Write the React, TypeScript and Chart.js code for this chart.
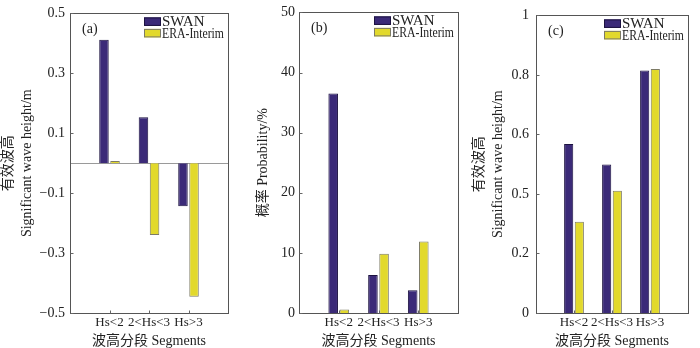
import React, { useEffect, useRef } from 'react';
import { Chart, registerables } from 'chart.js';

Chart.register(...registerables);

const categories = ['Hs<2', '2<Hs<3', 'Hs>3'];
const seriesNames = ['SWAN', 'ERA-Interim'];

const swanBias = [0.412, 0.153, -0.144];
const eraBias = [0.007, -0.24, -0.446];
const swanProb = [36.5, 6.3, 3.8];
const eraProb = [0.6, 9.85, 11.9];
const swanRmse = [0.568, 0.499, 0.815];
const eraRmse = [0.307, 0.411, 0.82];

const yTicksA = [-0.5, -0.3, -0.1, 0.1, 0.3, 0.5];
const yLabelsA = ['\u22120.5', '\u22120.3', '\u22120.1', '0.1', '0.3', '0.5'];
const yTicksB = [0, 10, 20, 30, 40, 50];
const yLabelsB = ['0', '10', '20', '30', '40', '50'];
const yTicksC = [0, 0.2, 0.4, 0.6, 0.8, 1];
const yLabelsC = ['0', '0.2', '0.5', '0.6', '0.8', '1'];

const xTitle = '波高分段 Segments';
const FONT = "'Liberation Serif', 'Times New Roman', 'Noto Sans CJK SC', serif";

const SWAN_FILL = '#3b2a78';
const SWAN_BORDER = '#1c1240';
const ERA_FILL = '#e2d92c';
const ERA_BORDER = '#7d7b66';

type PanelProps = {
  left: number;
  width: number;
  yAxisWidth: number;
  labelPad: number;
  titleLines: string[];
  titlePad: number;
  min: number;
  max: number;
  ticks: number[];
  tickLabels: string[];
  swan: number[];
  era: number[];
  letter: string;
  zeroLine: boolean;
};

function Panel(p: PanelProps) {
  const ref = useRef<HTMLCanvasElement>(null);
  useEffect(() => {
    if (!ref.current) return;
    const pad = (arr: number[]) => [null, ...arr, null];
    const decor = {
      id: 'decor',
      beforeDatasetsDraw(chart: any) {
        if (!p.zeroLine) return;
        const { ctx, chartArea } = chart;
        const y = Math.round(chart.scales.y.getPixelForValue(0)) + 0.5;
        ctx.save();
        ctx.strokeStyle = '#9a9a9a';
        ctx.lineWidth = 1;
        ctx.beginPath();
        ctx.moveTo(chartArea.left, y);
        ctx.lineTo(chartArea.right, y);
        ctx.stroke();
        ctx.restore();
      },
      afterDatasetsDraw(chart: any) {
        const { ctx, chartArea } = chart;
        const l = Math.round(chartArea.left) + 0.5;
        const r = Math.round(chartArea.right) + 0.5;
        const t = Math.round(chartArea.top) + 0.5;
        const b = Math.round(chartArea.bottom) + 0.5;
        ctx.save();
        ctx.lineWidth = 1;
        ctx.strokeStyle = '#555';
        ctx.strokeRect(l, t, r - l, b - t);
        // inward ticks
        ctx.strokeStyle = '#666';
        ctx.beginPath();
        chart.scales.y.ticks.forEach((tk: any) => {
          const y = Math.round(chart.scales.y.getPixelForValue(tk.value)) + 0.5;
          ctx.moveTo(l, y);
          ctx.lineTo(l + 3, y);
        });
        categories.forEach((_c, i) => {
          const x = Math.round(chart.scales.x.getPixelForValue(i + 1)) + 0.5;
          ctx.moveTo(x, b);
          ctx.lineTo(x, b - 3);
        });
        ctx.stroke();
        // panel letter
        ctx.fillStyle = '#222';
        ctx.font = `14px ${FONT}`;
        ctx.textBaseline = 'middle';
        ctx.textAlign = 'left';
        ctx.fillText(p.letter, chartArea.left + 12, chartArea.top + 16);
        // legend
        const x0 = chartArea.right - 84;
        chart.data.datasets.forEach((ds: any, i: number) => {
          const y = chartArea.top + 4 + i * 11.5;
          ctx.fillStyle = ds.backgroundColor;
          ctx.fillRect(x0, y, 17, 8.5);
          ctx.strokeStyle = ds.borderColor;
          ctx.strokeRect(x0 + 0.5, y + 0.5, 16, 7.5);
          ctx.fillStyle = '#222';
          ctx.font = `15px ${FONT}`;
          ctx.textBaseline = 'alphabetic';
          ctx.fillText(ds.label, x0 + 18, y + 9, 62);
        });
        ctx.restore();
      },
    };
    const chart = new Chart(ref.current, {
      type: 'bar',
      data: {
        labels: ['', ...categories, ''],
        datasets: [
          {
            label: seriesNames[0],
            data: pad(p.swan) as any,
            backgroundColor: SWAN_FILL,
            borderColor: SWAN_BORDER,
            borderWidth: 1,
            categoryPercentage: 0.56,
            barPercentage: 0.86,
          },
          {
            label: seriesNames[1],
            data: pad(p.era) as any,
            backgroundColor: ERA_FILL,
            borderColor: ERA_BORDER,
            borderWidth: 1,
            categoryPercentage: 0.56,
            barPercentage: 0.86,
          },
        ],
      },
      options: {
        responsive: false,
        animation: false,
        devicePixelRatio: 1,
        layout: { padding: { top: 10, right: 12, left: 0, bottom: 0 } },
        plugins: { legend: { display: false }, tooltip: { enabled: false } },
        scales: {
          x: {
            type: 'category',
            offset: false,
            grid: { display: false, drawTicks: false },
            border: { display: false },
            ticks: {
              color: '#222',
              font: { family: FONT, size: 13 },
              padding: 2,
              maxRotation: 0,
              autoSkip: false,
            },
            title: {
              display: true,
              text: xTitle,
              color: '#222',
              font: { family: FONT, size: 14, lineHeight: 1 },
              padding: { top: 0, bottom: 0 },
            },
            afterFit: (s: any) => {
              s.height = 35;
            },
          },
          y: {
            type: 'linear',
            min: p.min,
            max: p.max,
            grid: { display: false, drawTicks: false },
            border: { display: false },
            afterBuildTicks: (s: any) => {
              s.ticks = p.ticks.map((v) => ({ value: v }));
            },
            ticks: {
              color: '#222',
              font: { family: FONT, size: 14 },
              padding: p.labelPad,
              callback: (_v: any, i: number) => p.tickLabels[i],
            },
            title: {
              display: true,
              text: p.titleLines,
              color: '#222',
              font: { family: FONT, size: 14, lineHeight: 19 / 14 },
              padding: { top: p.titlePad, bottom: 0 },
            },
            afterFit: (s: any) => {
              s.width = p.yAxisWidth;
            },
          },
        },
      },
      plugins: [decor],
    } as any);
    return () => chart.destroy();
  }, []);
  return (
    <div style={{ position: 'absolute', left: p.left, top: 0, width: p.width, height: 348 }}>
      <canvas ref={ref} width={p.width} height={348} style={{ width: p.width, height: 348, display: 'block' }} />
    </div>
  );
}

export default function App() {
  return (
    <div style={{ position: 'fixed', left: 0, top: 0, width: 700, height: 348, background: '#fff' }}>
      <Panel
        left={0}
        width={240}
        yAxisWidth={70}
        labelPad={5}
        titleLines={['有效波高', 'Significant wave height/m']}
        titlePad={-1.5}
        min={-0.5}
        max={0.5}
        ticks={yTicksA}
        tickLabels={yLabelsA}
        swan={swanBias}
        era={eraBias}
        letter="(a)"
        zeroLine={true}
      />
      <Panel
        left={240}
        width={230}
        yAxisWidth={59}
        labelPad={4}
        titleLines={['概率 Probability/%']}
        titlePad={13.5}
        min={0}
        max={50}
        ticks={yTicksB}
        tickLabels={yLabelsB}
        swan={swanProb}
        era={eraProb}
        letter="(b)"
        zeroLine={false}
      />
      <Panel
        left={470}
        width={230}
        yAxisWidth={66}
        labelPad={7}
        titleLines={['有效波高', 'Significant wave height/m']}
        titlePad={-0.5}
        min={0}
        max={1}
        ticks={yTicksC}
        tickLabels={yLabelsC}
        swan={swanRmse}
        era={eraRmse}
        letter="(c)"
        zeroLine={false}
      />
    </div>
  );
}
